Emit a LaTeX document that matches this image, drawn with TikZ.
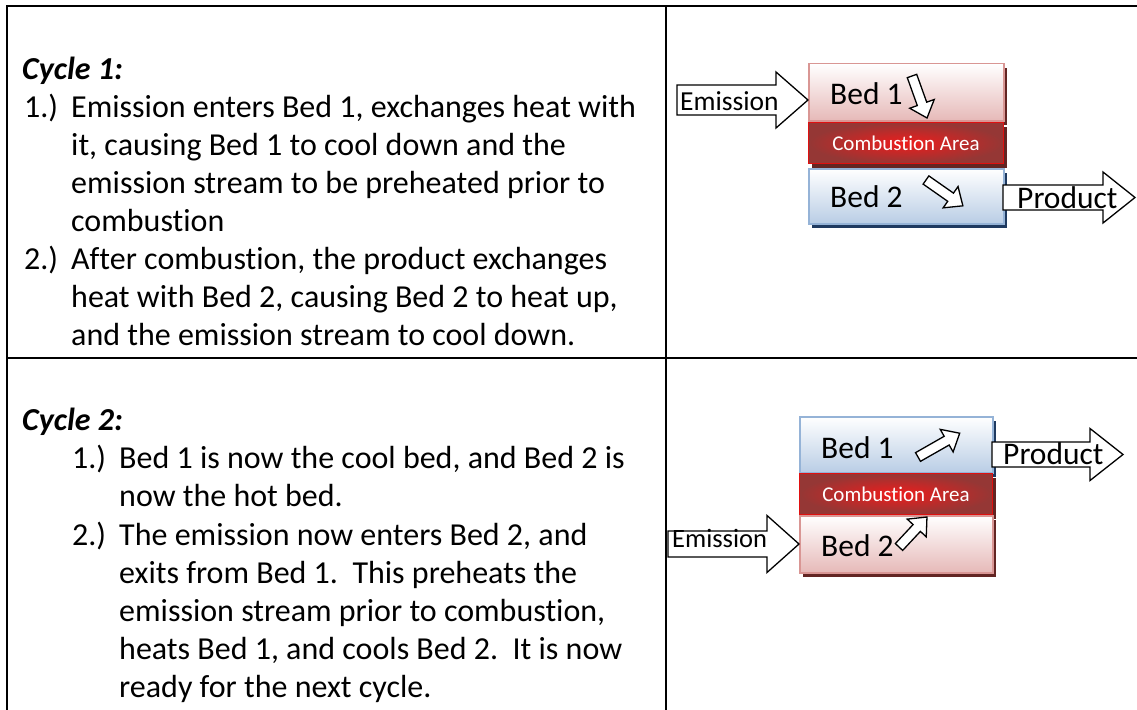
\documentclass[tikz,border=0pt]{standalone}
\usepackage{fontspec}
\setmainfont{Carlito}[Ligatures=NoCommon]
\usetikzlibrary{calc}
\definecolor{pinkbot}{HTML}{E6B9B8}
\definecolor{pinkedge}{HTML}{D99694}
\definecolor{bluebot}{HTML}{B9CDE5}
\definecolor{blueedge}{HTML}{95B3D7}
\definecolor{shred}{HTML}{632523}
\definecolor{shblue}{HTML}{1F3A60}
\definecolor{fireout}{HTML}{953735}
\definecolor{firein}{HTML}{EE1C1C}
\definecolor{fireedge}{HTML}{E01010}
\newcommand{\blkarrow}[6]{% tail, angle, length, body half, head half, head length
  \draw[blockarrow, shift={#1}, rotate=#2]
    (0,-#4) -- ({#3-#6},-#4) -- ({#3-#6},-#5) -- (#3,0) -- ({#3-#6},#5) -- ({#3-#6},#4) -- (0,#4) -- cycle;}
\tikzset{
  rule/.style={line width=2pt, line cap=rect},
  body/.style={anchor=base west, inner sep=0pt, font=\fontsize{32}{38}\selectfont},
  head/.style={anchor=base west, inner sep=0pt, font=\fontsize{32}{38}\selectfont\bfseries\itshape},
  bedlabel/.style={anchor=base west, inner sep=0pt, font=\fontsize{31.5}{36}\selectfont},
  arrlabel/.style={anchor=base west, inner sep=0pt, font=\fontsize{27.5}{32}\selectfont},
  firelabel/.style={anchor=center, inner sep=0pt, text=white, font=\fontsize{21}{24}\selectfont},
  shadowed/.style={preaction={fill=#1, transform canvas={shift={(3pt,-4pt)}}}},
  hotbed/.style={rectangle, anchor=north west, inner sep=0pt, line width=1.5pt, draw=pinkedge,
    top color=white, bottom color=pinkbot, shadowed=shred},
  coolbed/.style={rectangle, anchor=north west, inner sep=0pt, line width=1.5pt, draw=blueedge,
    top color=white, bottom color=bluebot, shadowed=shblue},
  firezone/.style={rectangle, anchor=north west, inner sep=0pt, line width=1pt, draw=fireedge,
    inner color=firein, outer color=fireout, shadowed=shred},
  blockarrow/.style={draw=black, fill=white, line width=1.3pt, line join=miter},
}
\begin{document}
\begin{tikzpicture}[x=1pt,y=-1pt]
\useasboundingbox (0,0) rectangle (1137,709);
% table rules
\draw[rule] (7.3,6) -- (1137,6);
\draw[rule] (7.3,6) -- (7.3,709);
\draw[rule] (665.7,6) -- (665.7,709);
\draw[rule] (7.3,357.7) -- (1137,357.7);

% Cycle 1 text
\node[head] (c1h) at (22,79) {Cycle 1:};
\node[body] (c1n1) at (24,117.5) {1.)};
\node[body] (c1l1) at (71,117.5) {Emission enters Bed 1, exchanges heat with};
\node[body] (c1l2) at (71,155.5) {it, causing Bed 1 to cool down and the};
\node[body] (c1l3) at (71,193.5) {emission stream to be preheated prior to};
\node[body] (c1l4) at (71,231.5) {combustion};
\node[body] (c1n2) at (24,269.5) {2.)};
\node[body] (c1l5) at (71,269.5) {After combustion, the product exchanges};
\node[body] (c1l6) at (71,307.5) {heat with Bed 2, causing Bed 2 to heat up,};
\node[body] (c1l7) at (71,345.5) {and the emission stream to cool down.};

% Cycle 2 text
\node[head] (c2h) at (22,430) {Cycle 2:};
\node[body] (c2n1) at (72,468.5) {1.)};
\node[body] (c2l1) at (119,468.5) {Bed 1 is now the cool bed, and Bed 2 is};
\node[body] (c2l2) at (119,506.5) {now the hot bed.};
\node[body] (c2n2) at (72,545) {2.)};
\node[body] (c2l3) at (119,545) {The emission now enters Bed 2, and};
\node[body] (c2l4) at (119,583) {exits from Bed 1.\ \ This preheats the};
\node[body] (c2l5) at (119,621.5) {emission stream prior to combustion,};
\node[body] (c2l6) at (119,659.5) {heats Bed 1, and cools Bed 2.\ \ It is now};
\node[body] (c2l7) at (119,697.5) {ready for the next cycle.};

% Diagram 1
\node[hotbed, minimum width=195pt, minimum height=57pt] (d1b1) at (808,63) {};
\node[firezone, minimum width=195pt, minimum height=41pt] (d1ca) at (808,122) {};
\node[coolbed, minimum width=195pt, minimum height=55pt] (d1b2) at (808,168) {};
\blkarrow{(677,100)}{0}{131}{15}{28}{32}
\blkarrow{(1003,197.5)}{0}{132}{12.5}{25.5}{32}
\blkarrow{(912,76)}{-70.3}{44.6}{5}{13}{15}
\blkarrow{(926,180)}{-35}{45}{5}{13}{15}
\node[arrlabel] (d1em) at (680,110) {Emission};
\node[bedlabel] (d1t1) at (830,104) {Bed 1};
\node[firelabel] (d1tc) at (d1ca.center) {Combustion Area};
\node[bedlabel] (d1t2) at (830,207) {Bed 2};
\node[arrlabel, font=\fontsize{31.5}{36}\selectfont] (d1pr) at (1017,208) {Product};

% Diagram 2
\node[coolbed, minimum width=193pt, minimum height=56pt] (d2b1) at (799,416) {};
\node[firezone, minimum width=193pt, minimum height=41pt] (d2ca) at (799,473) {};
\node[hotbed, minimum width=193pt, minimum height=57pt] (d2b2) at (799,515) {};
\blkarrow{(668,544)}{0}{131}{13}{28.5}{32}
\blkarrow{(992,454.5)}{0}{131}{12.5}{26}{33}
\blkarrow{(918,457)}{29.7}{48}{5}{13}{15}
\blkarrow{(899,547)}{47}{41}{5}{13}{15}
\node[arrlabel, font=\fontsize{26.5}{30}\selectfont] (d2em) at (672,547) {Emission};
\node[bedlabel] (d2t1) at (821,458) {Bed 1};
\node[firelabel] (d2tc) at (d2ca.center) {Combustion Area};
\node[bedlabel] (d2t2) at (821,556) {Bed 2};
\node[arrlabel, font=\fontsize{31.5}{36}\selectfont] (d2pr) at (1003,464) {Product};
\end{tikzpicture}
\end{document}
